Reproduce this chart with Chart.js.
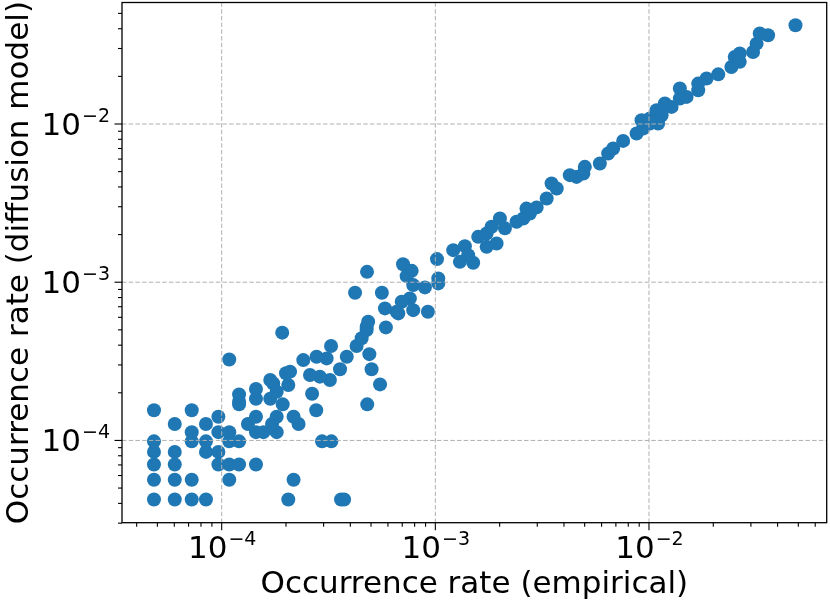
<!DOCTYPE html>
<html>
<head>
<meta charset="utf-8">
<script src="https://cdn.jsdelivr.net/npm/chart.js@4/dist/chart.umd.min.js"></script>
<style>
  html, body { margin: 0; padding: 0; background: #ffffff; }
  #wrap { width: 830px; height: 604px; }
</style>
</head>
<body>
<div id="wrap"><canvas id="c" width="830" height="604"></canvas></div>
<script>
// ---- data ----
const empiricalRate = [
  4.82e-5, 6.03e-5, 7.24e-5, 8.44e-5, 2.05e-4, 3.62e-4, 3.74e-4,
  4.82e-5, 6.03e-5, 7.24e-5, 1.085e-4, 2.17e-4,
  4.82e-5, 6.03e-5, 9.65e-5, 1.085e-4, 1.206e-4, 1.447e-4,
  4.82e-5, 6.03e-5, 8.44e-5, 9.65e-5,
  4.82e-5, 7.24e-5, 8.44e-5, 1.085e-4, 1.206e-4, 2.95e-4, 3.26e-4,
  7.24e-5, 9.65e-5, 1.085e-4, 1.447e-4, 1.568e-4, 1.809e-4,
  6.03e-5, 8.44e-5, 1.327e-4, 1.72e-4, 2.29e-4,
  9.65e-5, 1.447e-4, 1.809e-4, 2.17e-4,
  4.82e-5, 7.24e-5, 2.77e-4,
  1.206e-4, 1.93e-4, 4.80e-4,
  1.206e-4, 1.447e-4, 1.688e-4, 1.206e-4,
  1.809e-4, 2.65e-4, 1.447e-4,
  2.05e-4, 1.743e-4, 5.51e-4, 1.688e-4, 3.21e-4, 2.88e-4, 2.59e-4, 2.0e-4, 2.09e-4,
  3.58e-4, 5.03e-4, 2.41e-4, 1.085e-4, 3.10e-4, 2.78e-4, 3.85e-4, 4.91e-4,
  3.25e-4, 4.28e-4, 4.52e-4, 4.77e-4, 4.77e-4, 4.85e-4, 5.87e-4, 1.92e-4,
  4.79e-4, 4.21e-4, 5.62e-4, 7.06e-4, 7.75e-4, 7.34e-4, 1.018e-3, 1.032e-3, 1.032e-3,
  8.94e-4, 7.88e-4, 7.60e-4, 6.96e-4, 6.59e-4, 7.88e-4, 9.23e-4, 5.81e-4, 6.71e-4,
  1.213e-3, 1.375e-3, 1.303e-3, 1.504e-3, 1.425e-3, 1.587e-3, 1.738e-3, 1.738e-3,
  1.935e-3, 1.834e-3, 2.006e-3, 2.117e-3, 2.40e-3, 2.58e-3, 2.67e-3, 2.77e-3,
  2.98e-3, 3.32e-3, 3.50e-3, 3.70e-3, 4.26e-3, 4.58e-3, 5.01e-3, 4.93e-3,
  5.89e-3, 6.44e-3, 6.80e-3, 7.57e-3, 8.75e-3, 9.39e-3, 1.01e-2, 1.104e-2,
  9.23e-3, 1.01e-2, 1.146e-2, 1.085e-2, 1.187e-2, 1.276e-2, 1.395e-2, 1.395e-2,
  1.50e-2, 1.70e-2, 1.70e-2, 1.86e-2, 2.11e-2, 2.43e-2, 2.52e-2, 2.66e-2,
  2.66e-2, 3.07e-2, 3.19e-2, 3.30e-2, 3.61e-2, 4.85e-2
];
const diffusionRate = [
  4.23e-5, 4.23e-5, 4.23e-5, 4.23e-5, 4.23e-5, 4.23e-5, 4.23e-5,
  5.64e-5, 5.64e-5, 5.64e-5, 5.64e-5, 5.64e-5,
  7.05e-5, 7.05e-5, 7.05e-5, 7.05e-5, 7.05e-5, 7.05e-5,
  8.46e-5, 8.46e-5, 8.46e-5, 8.46e-5,
  9.87e-5, 9.87e-5, 9.87e-5, 9.87e-5, 9.87e-5, 9.87e-5, 9.87e-5,
  1.128e-4, 1.128e-4, 1.128e-4, 1.128e-4, 1.128e-4, 1.128e-4,
  1.269e-4, 1.269e-4, 1.269e-4, 1.269e-4, 1.269e-4,
  1.41e-4, 1.41e-4, 1.41e-4, 1.41e-4,
  1.551e-4, 1.551e-4, 1.551e-4,
  1.69e-4, 1.69e-4, 1.69e-4,
  1.76e-4, 1.833e-4, 1.833e-4, 1.95e-4,
  2.03e-4, 1.974e-4, 2.115e-4,
  2.24e-4, 2.29e-4, 2.26e-4, 2.41e-4, 2.41e-4, 2.53e-4, 2.59e-4, 2.66e-4, 2.72e-4,
  2.82e-4, 2.82e-4, 3.22e-4, 3.25e-4, 3.30e-4, 3.38e-4, 3.38e-4, 3.51e-4,
  3.95e-4, 3.95e-4, 4.42e-4, 4.98e-4, 5.23e-4, 5.62e-4, 5.18e-4, 4.80e-4,
  1.163e-3, 8.57e-4, 8.57e-4, 1.30e-3, 1.18e-3, 1.093e-3, 1.40e-3, 1.057e-3, 9.83e-4,
  9.27e-4, 9.59e-4, 7.90e-4, 7.52e-4, 6.50e-4, 6.66e-4, 6.50e-4, 6.83e-4, 6.35e-4,
  1.595e-3, 1.69e-3, 1.345e-3, 1.326e-3, 1.483e-3, 1.935e-3, 2.033e-3, 1.673e-3,
  1.758e-3, 2.24e-3, 2.53e-3, 2.19e-3, 2.41e-3, 2.53e-3, 2.92e-3, 2.72e-3,
  2.97e-3, 3.38e-3, 4.21e-3, 3.91e-3, 4.75e-3, 4.63e-3, 5.36e-3, 4.87e-3,
  5.63e-3, 6.51e-3, 7.00e-3, 7.82e-3, 8.71e-3, 9.37e-3, 1.007e-2, 1.007e-2,
  1.057e-2, 1.083e-2, 1.136e-2, 1.223e-2, 1.348e-2, 1.282e-2, 1.449e-2, 1.676e-2,
  1.483e-2, 1.80e-2, 1.635e-2, 1.94e-2, 2.06e-2, 2.29e-2, 2.65e-2, 2.79e-2,
  2.47e-2, 2.85e-2, 3.22e-2, 3.73e-2, 3.64e-2, 4.21e-2
];
const xRange = [3.415e-5, 0.0679];
const yRange = [3.02e-5, 0.0586];
const majorTicks = [1e-4, 1e-3, 1e-2];
const majorTickExponents = ['\u22124', '\u22123', '\u22122'];
const minorMultipliers = [2, 3, 4, 5, 6, 7, 8, 9];
const decades = [1e-5, 1e-4, 1e-3, 1e-2];
const xTitle = 'Occurrence rate (empirical)';
const yTitle = 'Occurrence rate (diffusion model)';

const points = empiricalRate.map((v, i) => ({ x: v, y: diffusionRate[i] }));

const FONT = '"DejaVu Sans", sans-serif';
const MAIN_PX = 31;
const SUP_PX = 19;

const mplAxes = {
  id: 'mplAxes',
  afterDatasetsDraw(chart) {
    const { ctx, chartArea: a, scales: { x, y } } = chart;
    ctx.save();
    ctx.strokeStyle = '#b0b0b0';
    ctx.lineWidth = 1;
    ctx.setLineDash([4.5, 2.2]);
    majorTicks.forEach(v => {
      const px = x.getPixelForValue(v);
      ctx.beginPath(); ctx.moveTo(px, a.top); ctx.lineTo(px, a.bottom); ctx.stroke();
      const py = y.getPixelForValue(v);
      ctx.beginPath(); ctx.moveTo(a.left, py); ctx.lineTo(a.right, py); ctx.stroke();
    });
    ctx.restore();
  },
  afterDraw(chart) {
    const { ctx, chartArea: a, scales: { x, y } } = chart;
    ctx.save();
    // frame
    ctx.strokeStyle = '#000';
    ctx.lineWidth = 1.3;
    ctx.strokeRect(a.left, a.top, a.right - a.left, a.bottom - a.top);
    // ticks
    ctx.lineWidth = 1.1;
    const drawTick = (axis, v, len) => {
      if (axis === 'x') {
        const px = x.getPixelForValue(v);
        if (px < a.left - 0.5 || px > a.right + 0.5) return;
        ctx.beginPath(); ctx.moveTo(px, a.bottom); ctx.lineTo(px, a.bottom + len); ctx.stroke();
      } else {
        const py = y.getPixelForValue(v);
        if (py < a.top - 0.5 || py > a.bottom + 0.5) return;
        ctx.beginPath(); ctx.moveTo(a.left, py); ctx.lineTo(a.left - len, py); ctx.stroke();
      }
    };
    decades.forEach(d => {
      minorMultipliers.forEach(m => { drawTick('x', m * d, 4); drawTick('y', m * d, 4); });
    });
    majorTicks.forEach(v => { drawTick('x', v, 7.5); drawTick('y', v, 7.5); });

    // tick labels
    ctx.fillStyle = '#000';
    ctx.textBaseline = 'alphabetic';
    ctx.textAlign = 'left';
    const mainFont = MAIN_PX + 'px ' + FONT;
    const supFont = SUP_PX + 'px ' + FONT;
    majorTicks.forEach((v, i) => {
      ctx.font = mainFont;
      const wMain = ctx.measureText('10').width;
      ctx.font = supFont;
      const wSup = ctx.measureText(majorTickExponents[i]).width;
      // x axis label
      const px = x.getPixelForValue(v);
      const x0 = px - (wMain + wSup) / 2;
      const baseX = 558;
      ctx.font = mainFont; ctx.fillText('10', x0, baseX);
      ctx.font = supFont; ctx.fillText(majorTickExponents[i], x0 + wMain + 1, baseX - 13);
      // y axis label
      const py = y.getPixelForValue(v);
      const right = a.left - 12;
      const y0 = right - wMain - wSup - 1;
      const baseY = py + 11;
      ctx.font = mainFont; ctx.fillText('10', y0, baseY);
      ctx.font = supFont; ctx.fillText(majorTickExponents[i], y0 + wMain + 1, baseY - 13);
    });

    // axis titles
    ctx.font = MAIN_PX + 'px ' + FONT;
    ctx.textAlign = 'center';
    ctx.fillText(xTitle, (a.left + a.right) / 2, 593);
    ctx.save();
    ctx.translate(28, (a.top + a.bottom) / 2);
    ctx.rotate(-Math.PI / 2);
    ctx.fillText(yTitle, 0, 0);
    ctx.restore();
    ctx.restore();
  }
};

new Chart(document.getElementById('c'), {
  type: 'scatter',
  data: {
    datasets: [{
      data: points,
      backgroundColor: '#1f77b4',
      borderColor: '#1f77b4',
      borderWidth: 0,
      pointRadius: 7,
      pointHoverRadius: 7,
      clip: false
    }]
  },
  options: {
    responsive: false,
    animation: false,
    devicePixelRatio: 1,
    layout: { autoPadding: false, padding: { top: 2.5, right: 3.3, left: 0, bottom: 0 } },
    plugins: { legend: { display: false }, tooltip: { enabled: false } },
    scales: {
      x: {
        type: 'logarithmic',
        min: xRange[0], max: xRange[1],
        ticks: { display: false },
        grid: { display: false, drawTicks: false },
        border: { display: false },
        afterFit: s => { s.height = 81.3; }
      },
      y: {
        type: 'logarithmic',
        min: yRange[0], max: yRange[1],
        ticks: { display: false },
        grid: { display: false, drawTicks: false },
        border: { display: false },
        afterFit: s => { s.width = 122; }
      }
    }
  },
  plugins: [mplAxes]
});
</script>
</body>
</html>
